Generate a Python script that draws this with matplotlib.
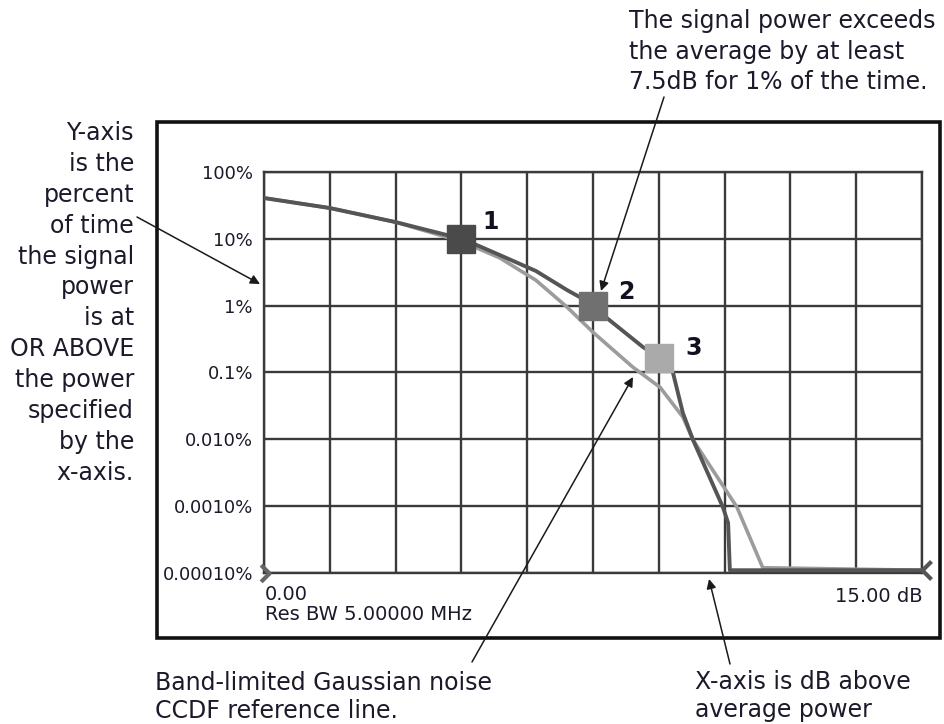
import matplotlib
matplotlib.use("Agg")
import matplotlib.pyplot as plt
from matplotlib.patches import Rectangle
from matplotlib.path import Path
import numpy as np

plt.rcParams['font.family'] = ['Liberation Sans Narrow', 'DejaVu Sans']

# ---------------- data ----------------
signal_db = [0.0, 1.5, 3.0, 4.54, 5.38, 6.2, 6.91, 7.48, 7.82, 8.64, 9.03, 9.32, 9.55, 9.78, 10.46, 10.58, 10.62, 15.0]
signal_pct = [40.8, 28.9, 17.8, 9.9, 5.7, 3.3, 1.71, 1.06, 0.65, 0.24, 0.164, 0.101, 0.0247, 0.0098, 0.00097, 0.00056, 0.00011, 0.00011]

gauss_db = [0.0, 1.5, 3.0, 4.54, 5.38, 6.2, 6.91, 7.5, 8.41, 9.03, 9.55, 9.78, 10.78, 11.37, 15.0]
gauss_pct = [40.8, 28.9, 17.8, 8.95, 5.16, 2.4, 0.95, 0.40, 0.12, 0.060, 0.0215, 0.0098, 0.00097, 0.00012, 0.00011]

marker_db = [4.5, 7.5, 9.0]
marker_pct = [10.0, 1.0, 0.165]
marker_labels = ["1", "2", "3"]

ytick_vals = [100, 10, 1, 0.1, 0.01, 0.001, 0.0001]
ytick_labels = ["100%", "10%", "1%", "0.1%", "0.010%", "0.0010%", "0.00010%"]
x_start_label = "0.00"
x_stop_label = "15.00 dB"
rbw_label = "Res BW 5.00000 MHz"

W, H = 944, 724
fig = plt.figure(figsize=(W / 100, H / 100), dpi=100)

def fx(px):
    return px / W

def fy(py):
    return 1 - py / H

# axes: grid from px 264..922 (x), 172..573 (y)
ax = fig.add_axes([fx(264), fy(573), fx(922) - fx(264), fy(172) - fy(573)])
ax.set_yscale('log')
ax.set_xlim(0, 15)
ax.set_ylim(1e-4, 100)
ax.set_xticks(np.arange(0, 15.01, 1.5))
ax.set_xticklabels([])
ax.set_yticks(ytick_vals)
ax.set_yticklabels(ytick_labels)
ax.yaxis.set_minor_locator(matplotlib.ticker.NullLocator())
ax.tick_params(axis='both', length=0, pad=8, labelsize=13, labelcolor='#1a1a2a')
ax.grid(True, color='#3a3a3a', lw=1.7)
for s in ax.spines.values():
    s.set_color('#3a3a3a')
    s.set_linewidth(1.7)

ax.plot(gauss_db, gauss_pct, color='#9c9c9c', lw=2.6, zorder=3, solid_joinstyle='round')
ax.plot(signal_db, signal_pct, color='#555555', lw=2.8, zorder=4, solid_joinstyle='round')

marker_colors = ['#4a4a4a', '#707070', '#aaaaaa']
label_offsets = [(15, 12), (18, 10), (19, 7)]
for d, p, lab, c, off in zip(marker_db, marker_pct, marker_labels, marker_colors, label_offsets):
    ax.plot([d], [p], marker='s', ms=20, color=c, mec=c, zorder=5, clip_on=False)
    ax.annotate(lab, xy=(d, p), xytext=off, textcoords='offset points',
                ha='left', va='center', fontsize=17, fontweight='bold', color='#111122')

# baseline chevrons
left_chev = Path([(-1, 1), (0, 0), (-1, -1)], [Path.MOVETO, Path.LINETO, Path.LINETO])
right_fork = Path([(1, 1), (0, 0), (1, -1)], [Path.MOVETO, Path.LINETO, Path.LINETO])
ax.plot([0.12], [1e-4], marker=left_chev, ms=12, mew=3, color='#666666', mfc='none',
        clip_on=False, zorder=6, linestyle='none')
ax.plot([15.0], [1.1e-4], marker=right_fork, ms=13, mew=3, color='#555555', mfc='none',
        clip_on=False, zorder=6, linestyle='none')

# texts inside the box
fig.text(fx(265), fy(595), x_start_label, ha='left', va='center', fontsize=14, color='#1a1a2a')
fig.text(fx(265), fy(615), rbw_label, ha='left', va='center', fontsize=14, color='#1a1a2a')
fig.text(fx(923), fy(596), x_stop_label, ha='right', va='center', fontsize=14, color='#1a1a2a')

# outer box
fig.add_artist(Rectangle((fx(157), fy(638)), fx(940) - fx(157), fy(122) - fy(638),
                         transform=fig.transFigure, fill=False, lw=2.6, ec='#111111'))

txt_color = '#1a1a2a'
# left annotation
left_lines = ["Y-axis", "is the", "percent", "of time", "the signal", "power", "is at",
              "OR ABOVE", "the power", "specified", "by the", "x-axis."]
for i, line in enumerate(left_lines):
    fig.text(fx(134), fy(133 + i * 30.9), line, ha='right', va='center', fontsize=17, color=txt_color)

# top-right annotation
top_lines = ["The signal power exceeds", "the average by at least", "7.5dB for 1% of the time."]
for i, line in enumerate(top_lines):
    fig.text(fx(629), fy(21 + i * 30.5), line, ha='left', va='center', fontsize=17, color=txt_color)

# bottom annotations
bl_lines = ["Band-limited Gaussian noise", "CCDF reference line."]
for i, line in enumerate(bl_lines):
    fig.text(fx(155), fy(683 + i * 28.5), line, ha='left', va='center', fontsize=17, color=txt_color)
br_lines = ["X-axis is dB above", "average power"]
for i, line in enumerate(br_lines):
    fig.text(fx(695), fy(682 + i * 28.5), line, ha='left', va='center', fontsize=17, color=txt_color)

arrow_kw = dict(arrowstyle='-|>', lw=1.1, color='#1a1a1a', mutation_scale=14, shrinkA=0, shrinkB=0)
arrows = [((137, 217), (260, 284)),
          ((664, 97), (601, 291)),
          ((472, 662), (633, 377)),
          ((730, 664), (709, 579))]
for (tx, ty), (hx, hy) in arrows:
    fig.add_artist(matplotlib.patches.FancyArrowPatch((fx(tx), fy(ty)), (fx(hx), fy(hy)),
                                                      transform=fig.transFigure, **arrow_kw))

fig.savefig('out.png', dpi=100)
